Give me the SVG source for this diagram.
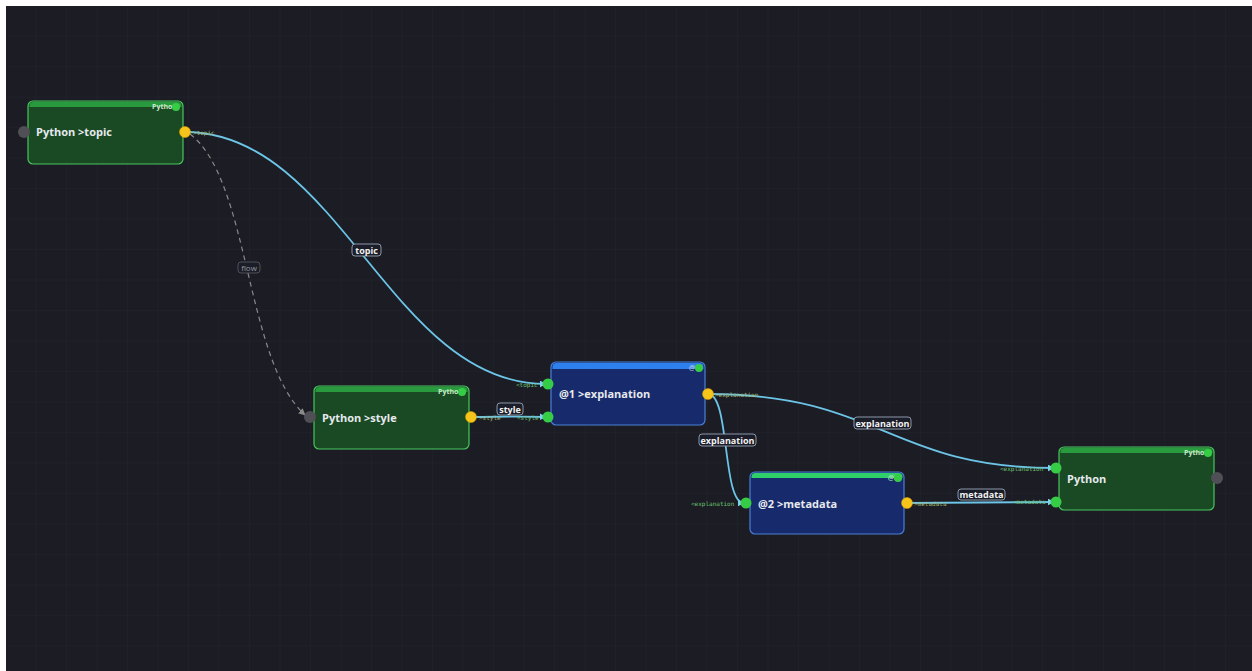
<svg xmlns="http://www.w3.org/2000/svg" width="1252" height="671" viewBox="0 0 1252 671">
<defs>
<pattern id="grid" x="6" y="6" width="30.5" height="30.5" patternUnits="userSpaceOnUse">
<path d="M30.5 0V30.5M0 30.5H30.5" fill="none" stroke="#23242e" stroke-width="1"/>
</pattern>
<marker id="arr" viewBox="0 0 10 10" refX="9" refY="5" markerWidth="7" markerHeight="7" orient="auto" markerUnits="userSpaceOnUse">
<path d="M0 0L10 5L0 10z" fill="#7fd0ee"/>
</marker>
<marker id="arrg" viewBox="0 0 10 10" refX="9" refY="5" markerWidth="7" markerHeight="7" orient="auto" markerUnits="userSpaceOnUse">
<path d="M0 0L10 5L0 10z" fill="#8a8a8a"/>
</marker>
</defs>
<style>
.edge{fill:none;stroke:#6cc4e6;stroke-width:1.8}
.flow{fill:none;stroke:#8a8a8a;stroke-width:1.2;stroke-dasharray:5 4}
.lblbox{fill:#1b1d28;stroke:#9aa6b8;stroke-width:0.9}
.lbl{font-family:"Open Sans","DejaVu Sans",sans-serif;font-size:9px;font-weight:bold;fill:#f2f2f2;text-anchor:middle}
.flowlbl{font-family:"Open Sans","DejaVu Sans",sans-serif;font-size:8px;fill:#999;text-anchor:middle}
.gbody{fill:#1a4a23;stroke:#49c65e;stroke-width:1.2}
.ghead{fill:#2a9a3f}
.bbody{fill:#172a6b;stroke:#4a80d6;stroke-width:1.2}
.bhead{fill:#2f80ef}
.mhead{fill:#2fd06a}
.title{font-family:"Open Sans","DejaVu Sans",sans-serif;font-size:11px;font-weight:bold;fill:#e6e9ee}
.tag{font-family:"Open Sans","DejaVu Sans",sans-serif;font-size:7px;font-weight:bold;fill:#c8e8c8;text-anchor:end}
.pl{font-family:"DejaVu Sans Mono",monospace;font-size:6px;fill:#a9b86a}
.plg{font-family:"DejaVu Sans Mono",monospace;font-size:6px;fill:#6cc36f}
.py{fill:#f6c41a;stroke:#e0a800;stroke-width:0.5}
.pg{fill:#36cc45}
.pgray{fill:#4f4f55}
</style>
<rect x="0" y="0" width="1252" height="671" fill="#ffffff"/>
<rect x="6" y="6" width="1246" height="665" fill="#1b1c24"/>
<rect x="6" y="6" width="1246" height="665" fill="url(#grid)"/>

<g id="connectors">
<path class="flow" d="M190 134 C250 180 245 360 305 415" marker-end="url(#arrg)"/>
<path class="edge" d="M185 132 C340 132 390 384 546 384" marker-end="url(#arr)"/>
<path class="edge" d="M471 417 C500 417 515 416 546 417" marker-end="url(#arr)"/>
<path class="edge" d="M708 394 C730 394 722 503 744 503" marker-end="url(#arr)"/>
<path class="edge" d="M708 394 C880 394 890 468 1054 468" marker-end="url(#arr)"/>
<path class="edge" d="M907 503 C970 503 990 502 1054 502" marker-end="url(#arr)"/>
<rect class="lblbox" x="238" y="262" width="22" height="11" rx="3" style="stroke:#55575f"/>
<text class="flowlbl" x="249" y="270.5">flow</text>
<rect class="lblbox" x="352" y="244" width="29" height="12" rx="3"/>
<text class="lbl" x="366.5" y="253.5">topic</text>
<rect class="lblbox" x="497" y="403" width="26" height="12" rx="3"/>
<text class="lbl" x="510" y="412.5">style</text>
<rect class="lblbox" x="699" y="434" width="57" height="12" rx="3"/>
<text class="lbl" x="727.5" y="443.5">explanation</text>
<rect class="lblbox" x="854" y="417" width="57" height="12" rx="3"/>
<text class="lbl" x="882.5" y="426.5">explanation</text>
<rect class="lblbox" x="958" y="489" width="47" height="11" rx="3"/>
<text class="lbl" x="981.5" y="497.5">metadata</text>
<text class="pl" x="193" y="134.5">&gt;topic</text>
<text class="plg" x="516" y="386.5">&lt;topic</text>
<text class="pl" x="479" y="419.5">&gt;style</text>
<text class="plg" x="517" y="419.5">&lt;style</text>
<text class="pl" x="715" y="396.5">&gt;explanation</text>
<text class="plg" x="691" y="505.5">&lt;explanation</text>
<text class="pl" x="914" y="505.5">&gt;metadata</text>
<text class="plg" x="1000" y="470.5">&lt;explanation</text>
<text class="plg" x="1013" y="503.5">&lt;metadata</text>
</g>

<g id="node-python-topic">
<rect class="gbody" x="28" y="101" width="155" height="63" rx="5"/>
<path class="ghead" d="M29.5 107 V106 Q29.5 102 33.5 102 H177.5 Q181.5 102 181.5 106 V107 Z"/>
<text class="tag" x="177" y="108.5">Python</text>
<circle class="pg" cx="176" cy="107" r="4"/>
<text class="title" x="36" y="136">Python &gt;topic</text>
<circle class="pgray" cx="24" cy="132" r="6"/>
<circle class="py" cx="185" cy="132" r="5.5"/>
</g>

<g id="node-python-style">
<rect class="gbody" x="314" y="386" width="155" height="63" rx="5"/>
<path class="ghead" d="M315.5 392 V391 Q315.5 387 319.5 387 H463.5 Q467.5 387 467.5 391 V392 Z"/>
<text class="tag" x="463" y="393.5">Python</text>
<circle class="pg" cx="462" cy="392" r="4"/>
<text class="title" x="322" y="421.5">Python &gt;style</text>
<circle class="pgray" cx="310" cy="417" r="6"/>
<circle class="py" cx="471" cy="417" r="5.5"/>
</g>

<g id="node-explanation">
<rect class="bbody" x="551" y="362" width="154" height="63" rx="5"/>
<path class="bhead" d="M552.5 369 V367 Q552.5 363 556.5 363 H699.5 Q703.5 363 703.5 367 V369 Z"/>
<text class="tag" x="699" y="370" style="fill:#9fb8e8">@1</text>
<circle class="pg" cx="699" cy="368" r="4"/>
<text class="title" x="559" y="398">@1 &gt;explanation</text>
<circle class="pg" cx="548" cy="384" r="5.5"/>
<circle class="pg" cx="548" cy="417" r="5.5"/>
<circle class="py" cx="708" cy="394" r="5.5"/>
</g>

<g id="node-metadata">
<rect class="bbody" x="750" y="472" width="154" height="62" rx="5"/>
<path class="mhead" d="M751.5 478 V477 Q751.5 473 755.5 473 H898.5 Q902.5 473 902.5 477 V478 Z"/>
<text class="tag" x="898" y="480" style="fill:#9fd8b0">@2</text>
<circle class="pg" cx="898" cy="478" r="4"/>
<text class="title" x="758" y="507.5">@2 &gt;metadata</text>
<circle class="pg" cx="746" cy="503" r="5.5"/>
<circle class="py" cx="907" cy="503" r="5.5"/>
</g>

<g id="node-python">
<rect class="gbody" x="1059" y="447" width="155" height="63" rx="5"/>
<path class="ghead" d="M1060.5 453 V452 Q1060.5 448 1064.5 448 H1208.5 Q1212.5 448 1212.5 452 V453 Z"/>
<text class="tag" x="1209" y="454.5">Python</text>
<circle class="pg" cx="1208" cy="453" r="4"/>
<text class="title" x="1067" y="482.5">Python</text>
<circle class="pg" cx="1056" cy="468" r="5.5"/>
<circle class="pg" cx="1056" cy="502" r="5.5"/>
<circle class="pgray" cx="1217" cy="478" r="6"/>
</g>
</svg>
